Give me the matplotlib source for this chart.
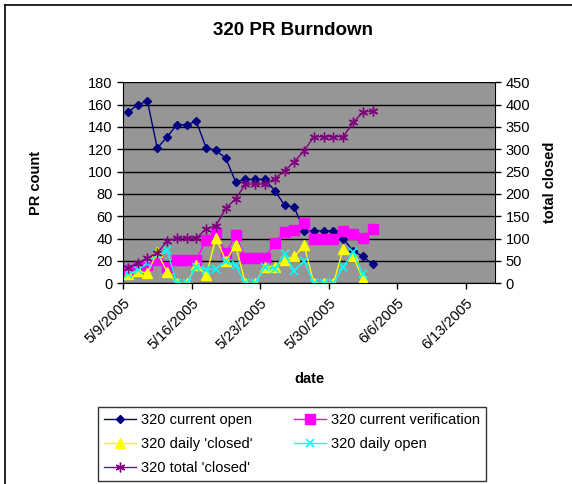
import matplotlib
matplotlib.use('Agg')
import matplotlib.pyplot as plt
from matplotlib.lines import Line2D
import pandas as pd

plt.rcParams['font.family'] = ['Liberation Sans', 'DejaVu Sans']

# one point per day starting 5/9/2005
days = pd.date_range('2005-05-09', periods=26, freq='D')

current_open = [153, 160, 163, 121, 131, 142, 142, 145, 121, 119, 112, 91, 93,
                93, 93, 83, 70, 68, 47, 47, 47, 47, 40, 29, 24, 17]
current_verification = [12, 14, 16, 21, 15, 21, 21, 21, 39, 45, 27, 43, 23,
                        23, 23, 36, 46, 48, 54, 40, 40, 40, 47, 44, 41, 49]
daily_closed = [8, 11, 9, 28, 10, 0, 0, 16, 7, 41, 20, 34, 0,
                0, 15, 15, 21, 24, 34, 0, 0, 0, 31, 24, 4]
daily_open = [8, 12, 18, 26, 30, 0, 0, 15, 12, 13, 20, 16, 0,
              0, 15, 13, 26, 11, 20, 0, 0, 0, 15, 28, 8]
total_closed = [35, 45, 57, 68, 94, 101, 101, 101, 122, 129, 168, 189, 222,
                222, 222, 234, 252, 272, 297, 328, 328, 328, 328, 360, 383, 386]

week_ticks = pd.date_range('2005-05-09', periods=6, freq='7D')
week_labels = [f'{d.month}/{d.day}/{d.year}' for d in week_ticks]

# points sit in the middle of their day, like Excel's date axis
x = days + pd.Timedelta(hours=12)

fig = plt.figure(figsize=(5.72, 4.84), dpi=100)
ax = fig.add_axes([0.215, 0.4147, 0.6504, 0.4153])
ax2 = ax.twinx()

ax.set_facecolor('#969696')
ax.set_zorder(ax2.get_zorder() + 1)
ax2.patch.set_visible(False)

lw = 1.0
h_open, = ax.plot(x, current_open, color='#000080', marker='D', markersize=4.5,
                  lw=lw, label='320 current open')
h_ver, = ax.plot(x, current_verification, color='#FF00FF', marker='s', markersize=6.5,
                 lw=lw, label='320 current verification')
h_dc, = ax.plot(x[:len(daily_closed)], daily_closed, color='#FFFF00', marker='^',
                markersize=7, lw=lw, label="320 daily 'closed'")
h_do, = ax.plot(x[:len(daily_open)], daily_open, color='#00FFFF', marker='x',
                markersize=6, mew=1.2, lw=lw, label='320 daily open')
# total closed belongs to the right axis; drawn on ax in scaled units to keep z-order
h_tc, = ax.plot(x, [v * 180 / 450 for v in total_closed], color='#800080',
                marker=(6, 2, 0), markersize=7, mew=1.0, lw=lw,
                label="320 total 'closed'")

ax.set_ylim(0, 180)
ax.set_yticks(range(0, 181, 20))
ax2.set_ylim(0, 450)
ax2.set_yticks(range(0, 451, 50))
ax.yaxis.grid(True, color='black', lw=1)
ax.set_axisbelow(True)

ax.set_xlim(pd.Timestamp('2005-05-09'), pd.Timestamp('2005-06-16'))
ax.set_xticks(week_ticks)
ax.set_xticklabels(week_labels, rotation=45, ha='right', rotation_mode='anchor')

for a in (ax, ax2):
    a.tick_params(direction='out', length=4, width=1, labelsize=10.5, colors='black')
    a.spines['top'].set_visible(False)
ax.spines['right'].set_visible(False)
ax2.spines['left'].set_visible(False)
ax2.spines['bottom'].set_visible(False)
ax.tick_params(axis='x', pad=5)

ax.set_xlabel('date', fontsize=10.5, fontweight='bold')
ax.set_ylabel('PR count', fontsize=10.5, fontweight='bold')
ax2.set_ylabel('total closed', fontsize=10.5, fontweight='bold')
ax.xaxis.set_label_coords(0.502, -0.44)
ax.yaxis.set_label_coords(-0.215, 0.5)
ax2.yaxis.set_label_coords(1.128, 0.5)

fig.text(0.512, 0.937, '320 PR Burndown', ha='center', va='center',
         fontsize=13.5, fontweight='bold')

handles = [h_open, h_dc, h_tc, h_ver, h_do]
leg = fig.legend(handles=handles, labels=[h.get_label() for h in handles],
                 loc='lower left', bbox_to_anchor=(0.172, 0.006, 0.677, 0.157),
                 mode='expand', ncol=2, fontsize=10.5, frameon=True, fancybox=False,
                 edgecolor='black', handlelength=2.2, handletextpad=0.3,
                 borderaxespad=0, borderpad=0.4, labelspacing=0.7)
leg.get_frame().set_linewidth(1.0)

# chart border (left and top edges show in the crop)
fig.add_artist(Line2D([4.5 / 572, 4.5 / 572], [0, 1 - 4.5 / 484], color='black', lw=1.2))
fig.add_artist(Line2D([4.5 / 572, 1], [1 - 4.5 / 484, 1 - 4.5 / 484], color='black', lw=1.2))

fig.savefig('out.png', dpi=100)
